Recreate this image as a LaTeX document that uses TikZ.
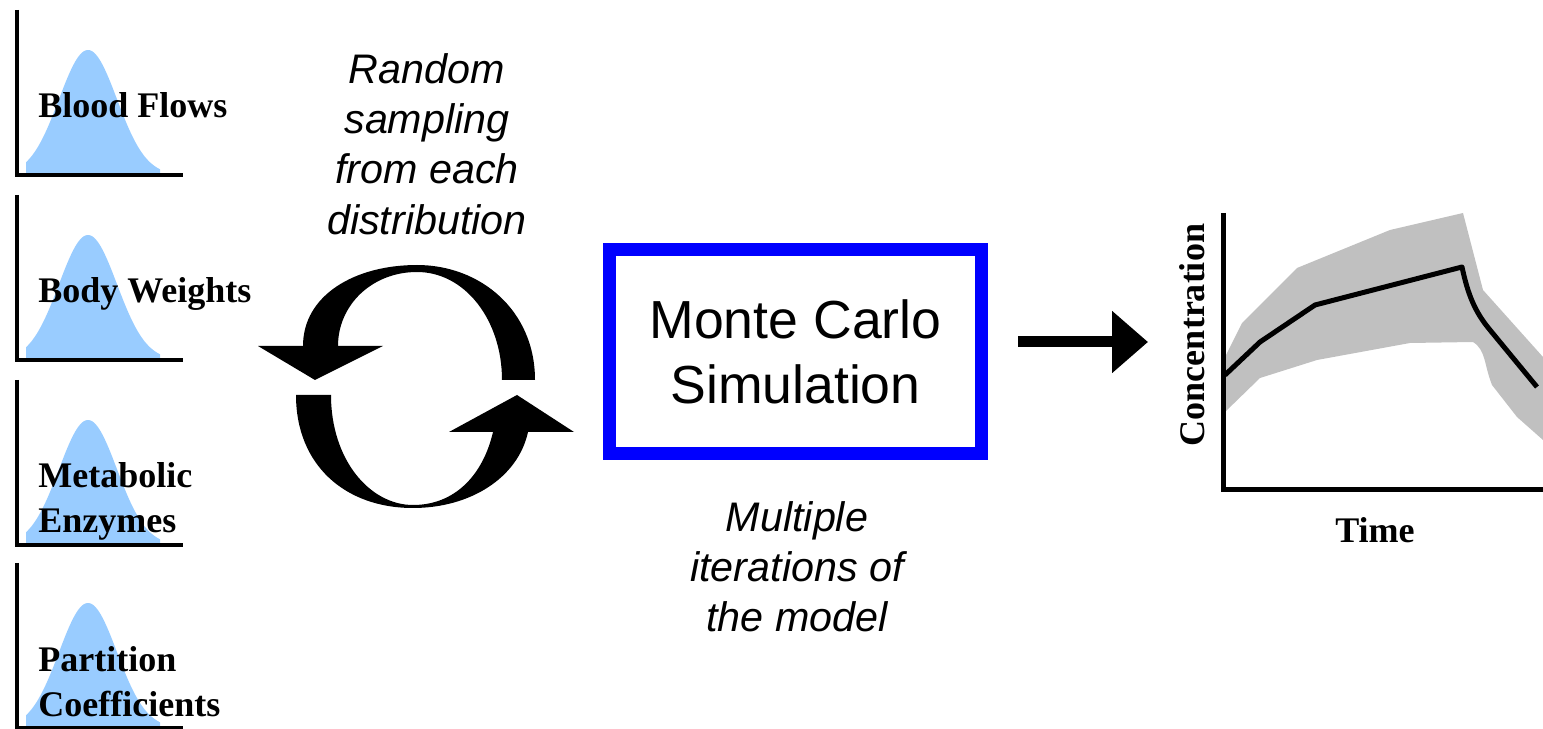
\documentclass[tikz,border=0pt]{standalone}
\usepackage{fontspec}
\setmainfont{Liberation Serif}
\newfontfamily\arialfont{Liberation Sans}
\usepackage{tikz}
\usetikzlibrary{arrows.meta}
\definecolor{bellBlue}{RGB}{153,204,255}
\definecolor{mcBlue}{RGB}{0,0,255}
\definecolor{bandGray}{RGB}{192,192,192}

\begin{document}
\begin{tikzpicture}[x=0.02cm,y=-0.02cm,
  axisline/.style={line width=0.08cm},
  distlabel/.style={anchor=base west,inner sep=0pt,font=\fontsize{20.5pt}{26pt}\selectfont\bfseries},
  notetext/.style={align=center,inner sep=0pt,font=\arialfont\itshape\fontsize{23.5pt}{28.6pt}\selectfont}]
\useasboundingbox (0,0) rectangle (1543,729);

% left: input distributions
\foreach \yy in {0,185,370,553}{
\begin{scope}[shift={(0,\yy)}]
\fill[bellBlue] (26,175) -- plot[smooth,domain=26:160,samples=80] (\x,{175-125*exp(-(\x-88)*(\x-88)/1682)}) -- (160,175) -- cycle;
\draw[axisline] (17,10)--(17,175)--(183,175);
\end{scope}
}
\node[distlabel] (bf) at (38,118) {Blood Flows};
\node[distlabel] (bw) at (38,303) {Body Weights};
\node[distlabel] (me1) at (38,488) {Metabolic};
\node[distlabel] (me2) at (38,533) {Enzymes};
\node[distlabel] (pc1) at (38,672) {Partition};
\node[distlabel] (pc2) at (38,717) {Coefficients};

% middle: sampling cycle
\node[notetext] (samp) at (427,144) {Random\\sampling\\from each\\distribution};
\fill (303,346) .. controls (303,295) and (355,265) .. (417,265)
  .. controls (480,265) and (535,310) .. (535,380) -- (502,380)
  .. controls (502,320) and (465,272) .. (417,272)
  .. controls (372,272) and (338,305) .. (338,346) -- cycle;
\fill (258,346) -- (383,346) -- (315,380) -- cycle;
\fill (296,395) .. controls (296,465) and (345,508) .. (413,508)
  .. controls (470,508) and (518,478) .. (528,432) -- (493,432)
  .. controls (483,475) and (455,505) .. (413,505)
  .. controls (370,505) and (331,460) .. (331,395) -- cycle;
\fill (449,432) -- (574,432) -- (517,395) -- cycle;

% Monte Carlo box
\node[draw=mcBlue,line width=0.26cm,minimum width=7.44cm,minimum height=4.08cm,align=center,
  font=\arialfont\fontsize{30.5pt}{37pt}\selectfont] (mc) at (795.5,351.5) {Monte Carlo\\Simulation};
\node[notetext] (iter) at (797,567) {Multiple\\iterations of\\the model};

\coordinate (tail) at (1018,342);
\coordinate (tip) at (1148,342);
\draw[line width=0.22cm,-{Triangle[length=0.72cm,width=1.2cm]}] (tail)--(tip);

% right: concentration over time
\fill[bandGray] (1225,357) -- (1242,323) -- (1297,268) -- (1390,230) -- (1463,213) -- (1483,290) -- (1543,357)
  -- (1543,440) -- (1517,417) -- (1492,385) .. controls (1484,365) and (1486,350) .. (1473,342)
  -- (1410,343) -- (1317,360) -- (1260,378) -- (1225,412) -- cycle;
\draw[line width=0.1cm,line join=round] (1225,375) -- (1260,342) -- (1315,305) -- (1462,267)
  .. controls (1468,295) and (1475,312) .. (1490,330) -- (1537,387);
\draw[line width=0.1cm] (1223,213)--(1223,490)--(1543,490);
\node[rotate=90,font=\fontsize{20.5pt}{26pt}\selectfont\bfseries] (conc) at (1192,335) {Concentration};
\node[font=\fontsize{20.5pt}{26pt}\selectfont\bfseries] (time) at (1375,530) {Time};
\end{tikzpicture}
\end{document}
